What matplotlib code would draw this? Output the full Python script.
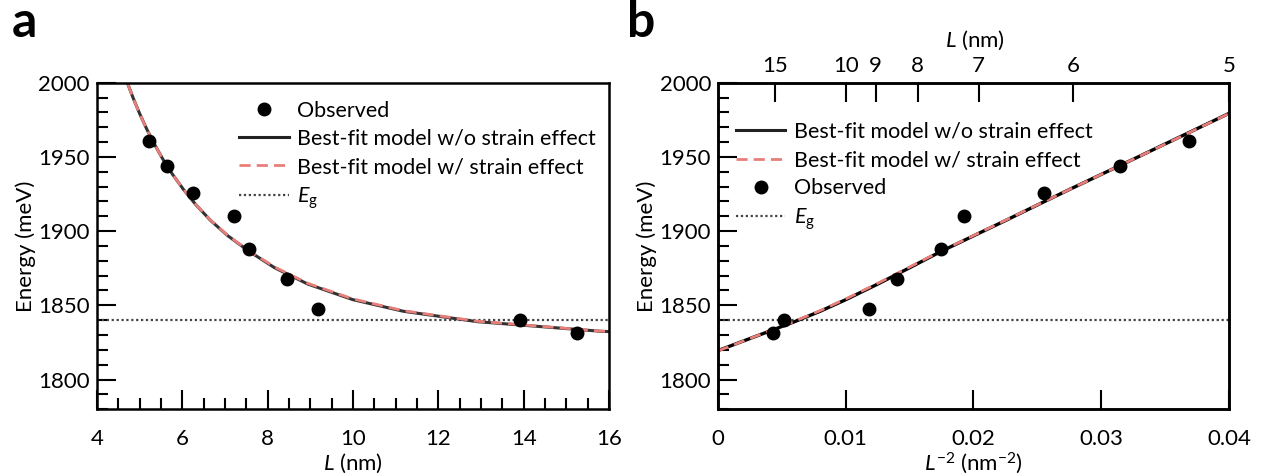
import numpy as np
import matplotlib
matplotlib.use('Agg')
import matplotlib.pyplot as plt
from matplotlib.lines import Line2D
from matplotlib.ticker import MultipleLocator, FixedLocator, NullLocator

fam = 'Lato'
plt.rcParams['font.family'] = [fam, 'DejaVu Sans']
plt.rcParams['mathtext.fontset'] = 'custom'
plt.rcParams['mathtext.rm'] = fam
plt.rcParams['mathtext.it'] = fam + ':italic'

# observed points
L_obs = [5.21, 5.64, 6.26, 7.21, 7.57, 8.45, 9.19, 13.92, 15.24]
E_obs = [1960.5, 1943.7, 1925.7, 1910.4, 1887.8, 1867.5, 1847.8, 1840.0, 1831.5]

# best-fit curves read along L^-2 (nm^-2)
inv_L2 = [0, 0.002, 0.004, 0.006, 0.008, 0.010, 0.0125, 0.015, 0.0175, 0.020,
          0.0225, 0.025, 0.0275, 0.030, 0.0325, 0.035, 0.0375, 0.040, 0.0425,
          0.045, 0.0475]
E_nostrain = [1819.5, 1826.0, 1832.5, 1839.0, 1846.0, 1853.8, 1864.3, 1875.3,
              1886.5, 1896.8, 1907.1, 1917.6, 1928.0, 1938.2, 1948.4, 1958.7,
              1969.0, 1979.3, 1989.6, 1999.9, 2010.2]
E_strain = [1819.3, 1826.0, 1832.6, 1839.3, 1846.4, 1854.3, 1864.8, 1875.8,
            1886.8, 1897.0, 1907.3, 1917.7, 1928.0, 1938.2, 1948.4, 1958.6,
            1968.9, 1979.2, 1989.5, 1999.8, 2010.1]
Eg = 1840
top_L = [15, 10, 9, 8, 7, 6, 5]

fs = 16
red = '#E87E7A'

x = np.array(inv_L2)
L_curve = 1 / np.sqrt(x[1:])
L_obs = np.array(L_obs)

fig = plt.figure(figsize=(12.65, 4.75), dpi=100)
ax1 = fig.add_axes([0.0766, 0.1385, 0.4048, 0.6874])
ax2 = fig.add_axes([0.5676, 0.1385, 0.4039, 0.6874])

# panel a
ax1.axhline(Eg, color='#444444', ls=(0, (1, 1.2)), lw=1.6)
ax1.plot(L_curve, E_nostrain[1:], color='#333333', lw=2.2)
ax1.plot(L_curve, E_strain[1:], color=red, lw=2.0, dashes=(4, 2.2))
ax1.plot(L_obs, E_obs, 'o', color='black', ms=9)
ax1.set_xlim(4, 16)
ax1.set_ylim(1780, 2000)
ax1.xaxis.set_major_locator(MultipleLocator(2))
ax1.xaxis.set_minor_locator(MultipleLocator(0.5))
ax1.set_xlabel('$L$ (nm)', fontsize=fs, va='center')
ax1.xaxis.set_label_coords(0.5, -0.165)

# panel b
ax2.axhline(Eg, color='#444444', ls=(0, (1, 1.2)), lw=1.6)
ax2.plot(x, E_nostrain, color='black', lw=2.4)
ax2.plot(x, E_strain, color=red, lw=2.0, dashes=(4, 2.2))
ax2.plot(L_obs ** -2, E_obs, 'o', color='black', ms=9)
ax2.set_xlim(0, 0.04)
ax2.set_ylim(1780, 2000)
ax2.xaxis.set_major_locator(FixedLocator([0, 0.01, 0.02, 0.03, 0.04]))
ax2.set_xticklabels(['0', '0.01', '0.02', '0.03', '0.04'])
ax2.xaxis.set_minor_locator(NullLocator())
ax2.set_xlabel('$L^{-2}$ (nm$^{-2}$)', fontsize=fs, va='center')
ax2.xaxis.set_label_coords(0.5, -0.165)

top = ax2.twiny()
top.set_xlim(0, 0.04)
top.xaxis.set_major_locator(FixedLocator([1 / v ** 2 for v in top_L]))
top.set_xticklabels([str(v) for v in top_L])
top.xaxis.set_minor_locator(NullLocator())
top.tick_params(axis='x', direction='in', length=14, width=1.5, labelsize=fs, pad=5)
top.set_xlabel('$L$ (nm)', fontsize=fs, va='center')
top.xaxis.set_label_coords(0.503, 1.131)
for s in top.spines.values():
    s.set_linewidth(1.8)

for ax in (ax1, ax2):
    ax.yaxis.set_major_locator(MultipleLocator(50))
    ax.yaxis.set_minor_locator(MultipleLocator(10))
    ax.tick_params(which='major', direction='in', length=14, width=1.5,
                   labelsize=fs, top=False, right=False)
    ax.tick_params(which='minor', direction='in', length=8, width=1.5,
                   top=False, right=False)
    ax.tick_params(axis='x', pad=14)
    ax.tick_params(axis='y', pad=5)
    for s in ax.spines.values():
        s.set_linewidth(1.8)
    ax.set_ylabel('Energy (meV)', fontsize=fs, va='center')
    ax.yaxis.set_label_coords(-0.14, 0.5)

# legends
h_obs = Line2D([], [], ls='none', marker='o', color='black', ms=9)
h_no = Line2D([], [], color='#222222', lw=2.2)
h_st = Line2D([], [], color=red, lw=2.0, dashes=(4, 2.2))
h_eg = Line2D([], [], color='#444444', ls=(0, (1, 1.2)), lw=1.6)
lab_obs = 'Observed'
lab_no = 'Best-fit model w/o strain effect'
lab_st = 'Best-fit model w/ strain effect'
lab_eg = '$E_\\mathrm{g}$'

kw = dict(frameon=False, borderpad=0, borderaxespad=0, handlelength=2.3,
          handletextpad=0.4, labelspacing=0.38, fontsize=15.5, loc='upper left')
ax1.legend([h_obs, h_no, h_st, h_eg], [lab_obs, lab_no, lab_st, lab_eg],
           bbox_to_anchor=(0.2775, 0.945), **kw)
ax2.legend([h_no, h_st, h_obs, h_eg], [lab_no, lab_st, lab_obs, lab_eg],
           bbox_to_anchor=(0.035, 0.88), **kw)

fig.text(0.009, 1.0, 'a', fontsize=36, fontweight='bold', va='top')
fig.text(0.496, 1.0, 'b', fontsize=36, fontweight='bold', va='top')

fig.savefig('out.png', dpi=100)
